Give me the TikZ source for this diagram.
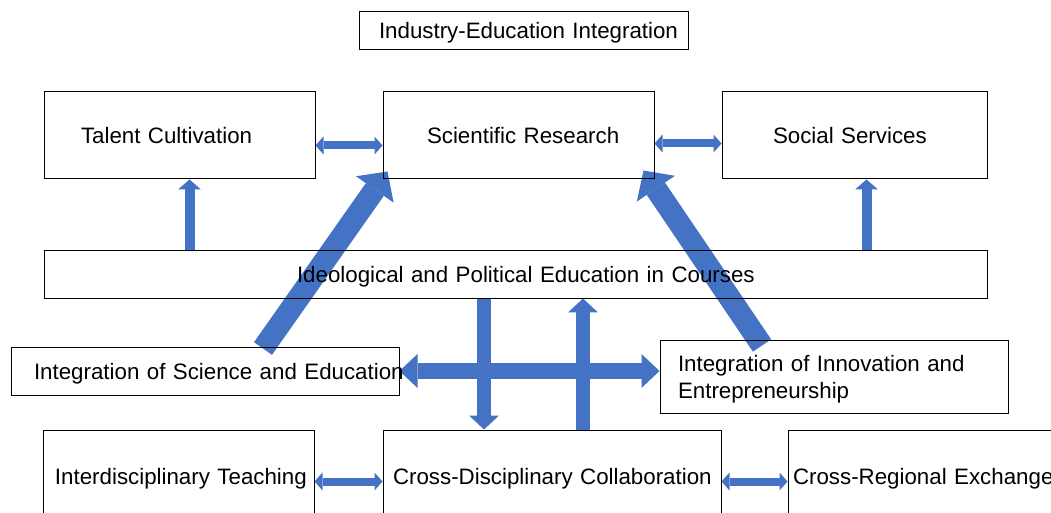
\documentclass[tikz,border=0pt]{standalone}
\usepackage{fontspec}
\setmainfont{Liberation Sans}
\usetikzlibrary{arrows.meta}
\usetikzlibrary{backgrounds}

\definecolor{linkblue}{HTML}{4472C4}
\newlength{\pxu}
\setlength{\pxu}{0.02cm}

\tikzset{
  block/.style={draw=black, line width=1\pxu, inner sep=0pt, align=left,
    text height=16\pxu, text depth=0pt, font=\fontsize{12.7}{15.4}\selectfont},
  thinlink/.style={draw=linkblue, line width=8\pxu,
    >={Triangle[width=0.36cm, length=0.16cm, line width'=0pt]}},
  uplink/.style={draw=linkblue, line width=10\pxu,
    >={Triangle[width=0.46cm, length=0.2cm, line width'=0pt]}},
  midlink/.style={draw=linkblue, line width=14\pxu,
    >={Triangle[width=0.6cm, length=0.28cm, line width'=0pt]}},
  widelink/.style={draw=linkblue, line width=16\pxu,
    >={Triangle[width=0.68cm, length=0.36cm, line width'=0pt]}},
  biglink/.style={draw=linkblue, line width=22\pxu,
    >={Triangle[width=0.92cm, length=0.44cm, line width'=0pt]}},
}

\begin{document}
\begin{tikzpicture}[x=0.02cm, y=-0.02cm]
\useasboundingbox (0,0) rectangle (1051,513);
\clip (0,0) rectangle (1051,513);

%top row
\node[block, text width=329\pxu, minimum height=38\pxu] (ind) at (523.5,31) {\hspace*{20\pxu}\mbox{Industry-Education Integration}};
\node[block, text width=271\pxu, minimum height=87\pxu] (talent) at (179.5,135.5) {\hspace*{37\pxu}Talent Cultivation};
\node[block, text width=271\pxu, minimum height=87\pxu] (sci) at (518.5,135.5) {\hspace*{44\pxu}Scientific Research};
\node[block, text width=265\pxu, minimum height=87\pxu] (soc) at (854.5,135.5) {\hspace*{51\pxu}Social Services};

%middle
\node[block, text width=943\pxu, minimum height=48\pxu] (idpe) at (515.5,274) {\hspace*{253\pxu}Ideological and Political Education in Courses};
\node[block, text width=388\pxu, minimum height=48\pxu] (scied) at (205,371) {\hspace*{23\pxu}\mbox{Integration of Science and Education}};
\node[block, text width=348\pxu, minimum height=73\pxu, text depth=27\pxu] (innov) at (834,376.5) {\hspace*{18\pxu}Integration of Innovation and\\\hspace*{18\pxu}Entrepreneurship};

%bottom row
\node[block, text width=271\pxu, minimum height=93\pxu] (inter) at (178.5,476.5) {\hspace*{12\pxu}\mbox{Interdisciplinary Teaching}};
\node[block, text width=338\pxu, minimum height=93\pxu] (crossd) at (552,476.5) {\hspace*{10\pxu}\mbox{Cross-Disciplinary Collaboration}};
\node[block, text width=277\pxu, minimum height=93\pxu] (crossr) at (926.5,476.5) {\hspace*{5\pxu}\mbox{Cross-Regional Exchange}};

%arrows
\begin{pgfonlayer}{background}
\draw[thinlink, <->] ([yshift=-10\pxu]talent.east) -- ([yshift=-10\pxu]sci.west);
\draw[thinlink, <->] ([yshift=-8\pxu]sci.east) -- ([yshift=-8\pxu]soc.west);
\draw[uplink, ->] ([xshift=10\pxu]talent.south |- idpe.north) -- ([xshift=10\pxu]talent.south);
\draw[uplink, ->] ([xshift=12\pxu]soc.south |- idpe.north) -- ([xshift=12\pxu]soc.south);
\draw[biglink, ->] ([xshift=58\pxu, yshift=-2\pxu]scied.north) -- ([xshift=5\pxu, yshift=8\pxu]sci.south west);
\draw[biglink, ->] ([xshift=-72\pxu, yshift=-6\pxu]innov.north) -- ([xshift=-11\pxu, yshift=9\pxu]sci.south east);
\draw[widelink, <->] (scied.east) -- (scied.east -| innov.west);
\draw[midlink, ->] ([xshift=-68\pxu]crossd.north |- idpe.south) -- ([xshift=-68\pxu]crossd.north);
\draw[midlink, ->] ([xshift=31\pxu]crossd.north) -- ([xshift=31\pxu]crossd.north |- idpe.south);
\draw[thinlink, <->] ([yshift=-5\pxu]inter.east) -- ([yshift=-5\pxu]crossd.west);
\draw[thinlink, <->] ([yshift=-5\pxu]crossd.east) -- ([yshift=-5\pxu]crossr.west);
\end{pgfonlayer}

\end{tikzpicture}
\end{document}
